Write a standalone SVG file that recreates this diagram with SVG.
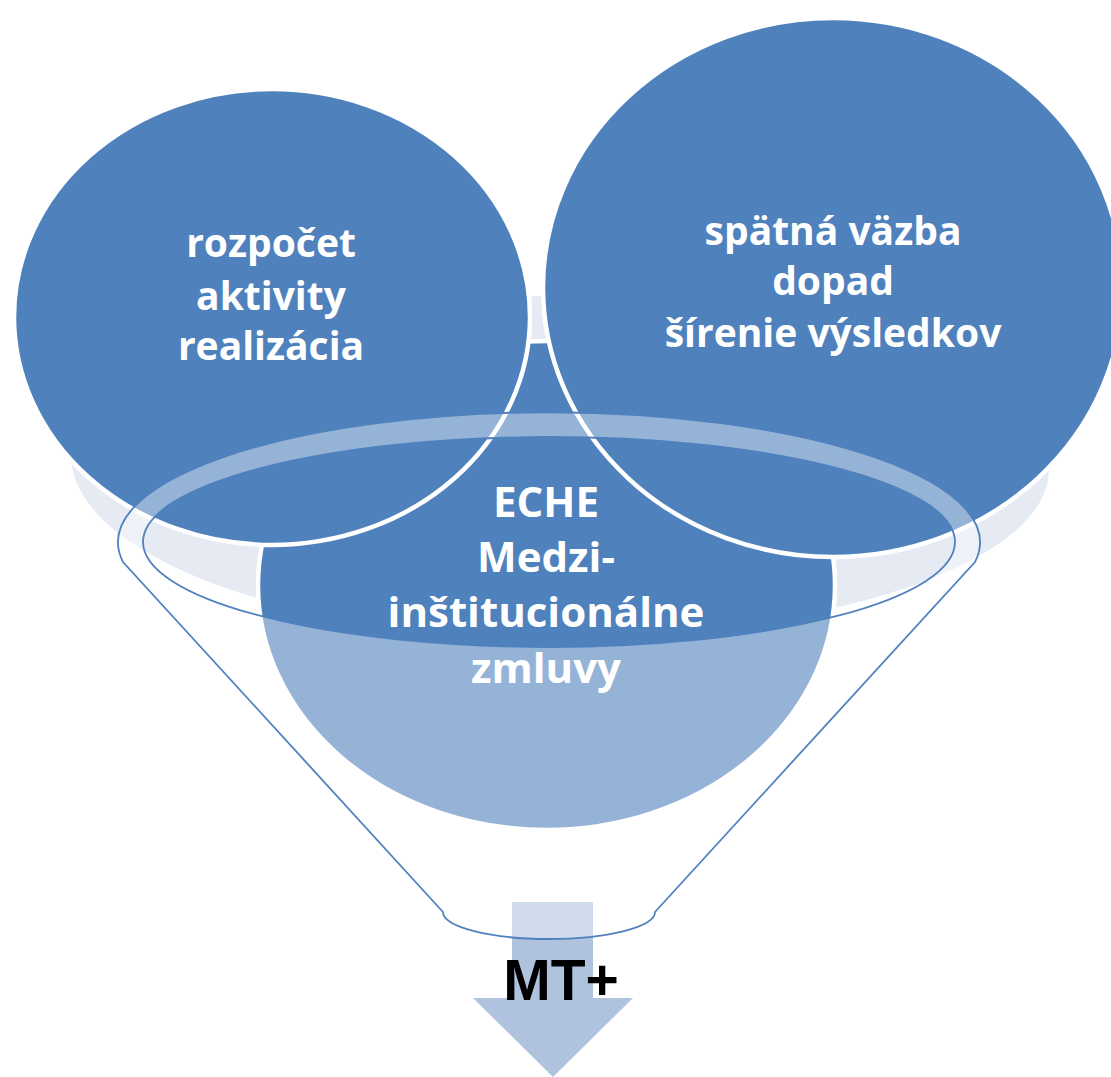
<svg xmlns="http://www.w3.org/2000/svg" width="1111" height="1077" viewBox="0 0 1111 1077">
  <style>
    .bubble { fill: #4f81bd; stroke: #ffffff; stroke-width: 4.5; }
    .label { font-family: "Open Sans", "Liberation Sans", sans-serif; font-weight: 700; fill: #ffffff; text-anchor: middle; }
    .side { font-size: 39px; }
    .mid { font-size: 42px; }
    .funnel { fill: #ffffff; fill-opacity: 0.4; fill-rule: evenodd; stroke: #4f81bd; stroke-width: 1.8; }
    .result { font-family: "Liberation Sans", "Open Sans", sans-serif; font-weight: 700; font-size: 57px; fill: #000000; text-anchor: middle; }
  </style>
  <rect width="1111" height="1077" fill="#ffffff"/>

  <g id="funnel-back">
    <path d="M 71 455 A 488 159 0 0 1 559 296 A 490 174 0 0 1 1049 470 A 490 167 0 0 1 559 637 A 488 182 0 0 1 71 455 Z" fill="#e5eaf3"/>
  </g>

  <g id="connectors">
    <path d="M 512 902 L 593 902 L 593 998 L 633 998 L 553 1077 L 473 998 L 512 998 Z" fill="#b0c3de"/>
  </g>

  <g id="node-eche">
    <ellipse class="bubble" cx="546.5" cy="585.5" rx="288.5" ry="244.5"/>
    <text class="label mid" x="546" y="517">ECHE</text>
    <text class="label mid" x="546" y="572">Medzi-</text>
    <text class="label mid" x="546" y="627">inštitucionálne</text>
    <text class="label mid" x="546" y="683">zmluvy</text>
  </g>

  <g id="node-left">
    <ellipse class="bubble" cx="272" cy="317" rx="258" ry="228"/>
    <text class="label side" x="271" y="257">rozpočet</text>
    <text class="label side" x="271" y="310">aktivity</text>
    <text class="label side" x="271" y="360">realizácia</text>
  </g>

  <g id="node-right">
    <ellipse class="bubble" cx="833" cy="287.5" rx="290" ry="269.5"/>
    <text class="label side" x="833" y="245">spätná väzba</text>
    <text class="label side" x="833" y="295">dopad</text>
    <text class="label side" x="833" y="347">šírenie výsledkov</text>
  </g>

  <g id="funnel">
    <path class="funnel" d="M 123 562 A 431 130 0 1 1 975 562 L 655 912 A 106 27 0 0 1 443 912 Z M 143 542 A 406 105 0 1 0 955 542 A 406 105 0 1 0 143 542 Z"/>
  </g>

  <g id="node-result">
    <text class="result" x="561" y="1000">MT+</text>
  </g>
</svg>
